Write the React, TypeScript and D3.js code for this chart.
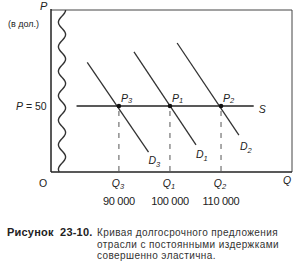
import React from "react";
import * as d3 from "d3";

// Equilibrium points on the long-run supply curve
const price = 50;
const quantities = [90000, 100000, 110000];
const pointLabels = ["3", "1", "2"];
const qLabels = ["3", "1", "2"];
const qValueLabels = ["90 000", "100 000", "110 000"];

// Demand curves as two end points each (q, p)
const demandNames = ["3", "1", "2"];
const demandD3 = [{ q: 83800, p: 83 }, { q: 95800, p: 15 }];
const demandD1 = [{ q: 92950, p: 91 }, { q: 105100, p: 20.5 }];
const demandD2 = [{ q: 101400, p: 97.7 }, { q: 113500, p: 28 }];
const demands = [demandD3, demandD1, demandD2];

// Horizontal supply S
const supplyQ = [81700, 116400];

const W = 308;
const H = 268;
const left = 51;
const right = 292;
const top = 10;
const bottom = 172;

const ink = "#222";
const font = "'Liberation Sans', Arial, sans-serif";

export default function App() {
  const x = d3.scaleLinear().domain([76700, 123900]).range([left, right]);
  const y = d3.scaleLinear().domain([0, 122.7]).range([bottom, top]);

  const line = d3
    .line<{ q: number; p: number }>()
    .x((d) => x(d.q))
    .y((d) => y(d.p));

  // wavy break line next to the price axis (decoration)
  const wavePts: [number, number][] = [];
  for (let yy = top; yy <= bottom; yy += 1) {
    wavePts.push([62 + 3.6 * Math.sin(Math.PI / 2 + (2 * Math.PI * (yy - top)) / 24.5), yy]);
  }
  const wave = d3.line().curve(d3.curveBasis)(wavePts) || "";

  const labelOffsets = [
    { dx: 0, dy: 12 },
    { dx: 0, dy: 13 },
    { dx: 1, dy: 15 },
  ];

  return (
    <svg
      width={W}
      height={H}
      style={{ position: "absolute", left: 0, top: 0, background: "#fff" }}
      fontFamily={font}
      fill={ink}
    >
      {/* frame */}
      <line x1={left} y1={top} x2={right} y2={top} stroke="#444" strokeWidth={1} />
      <line x1={right} y1={top} x2={right} y2={bottom} stroke="#444" strokeWidth={1} />
      <line x1={left} y1={top - 1} x2={left} y2={bottom} stroke={ink} strokeWidth={1.5} />
      <line x1={left} y1={bottom} x2={right} y2={bottom} stroke={ink} strokeWidth={1.5} />
      <path d={wave} fill="none" stroke="#333" strokeWidth={1.4} />

      {/* axis titles */}
      <text x={40} y={10} fontSize={11} fontStyle="italic">P</text>
      <text x={8} y={27} fontSize={9}>(в дол.)</text>
      <text x={16} y={110} fontSize={10.5}>
        <tspan fontStyle="italic">P</tspan> = 50
      </text>
      <text x={39} y={187} fontSize={10.5}>O</text>
      <text x={283} y={184} fontSize={10.5} fontStyle="italic">Q</text>

      {/* dashed drops */}
      {quantities.map((q, i) => (
        <line
          key={"dash" + i}
          x1={x(q)}
          y1={y(price) + 5}
          x2={x(q)}
          y2={bottom}
          stroke="#555"
          strokeWidth={1}
          strokeDasharray="5,6"
        />
      ))}

      {/* demand curves */}
      {demands.map((d, i) => (
        <g key={"d" + i}>
          <path d={line(d) || ""} fill="none" stroke="#333" strokeWidth={1.3} />
          <text
            x={x(d[1].q) + labelOffsets[i].dx}
            y={y(d[1].p) + labelOffsets[i].dy}
            fontSize={10.5}
            fontStyle="italic"
          >
            D<tspan fontSize={7.5} dy={3}>{demandNames[i]}</tspan>
          </text>
        </g>
      ))}

      {/* supply */}
      <line
        x1={x(supplyQ[0])}
        y1={y(price)}
        x2={x(supplyQ[1])}
        y2={y(price)}
        stroke={ink}
        strokeWidth={1.5}
      />
      <text x={x(supplyQ[1]) + 5} y={y(price) + 7} fontSize={10.5} fontStyle="italic">S</text>

      {/* points */}
      {quantities.map((q, i) => (
        <g key={"pt" + i}>
          <circle cx={x(q)} cy={y(price)} r={2.3} fill="#111" />
          <text x={x(q) + 2} y={y(price) - 4} fontSize={10.5} fontStyle="italic">
            P<tspan fontSize={7.5} dy={1}>{pointLabels[i]}</tspan>
          </text>
        </g>
      ))}

      {/* quantity labels */}
      {quantities.map((q, i) => (
        <g key={"ql" + i}>
          <text x={x(q) - 1} y={187} fontSize={10.5} fontStyle="italic" textAnchor="middle">
            Q<tspan fontSize={7.5} dy={2}>{qLabels[i]}</tspan>
          </text>
          <text x={x(q)} y={205} fontSize={11} textAnchor="middle" letterSpacing={-0.3}>
            {qValueLabels[i]}
          </text>
        </g>
      ))}

      {/* caption */}
      <text x={7} y={236} fontSize={11} fontWeight="bold" letterSpacing={0.2} style={{ whiteSpace: "pre" }}>
        {"Рисунок  23-10."}
      </text>
      <g fontSize={10} letterSpacing={0.4} fill="#333">
        <text x={97} y={236}>Кривая долгосрочного предложения</text>
        <text x={97} y={247.5}>отрасли с постоянными издержками</text>
        <text x={97} y={259}>совершенно эластична.</text>
      </g>
    </svg>
  );
}
